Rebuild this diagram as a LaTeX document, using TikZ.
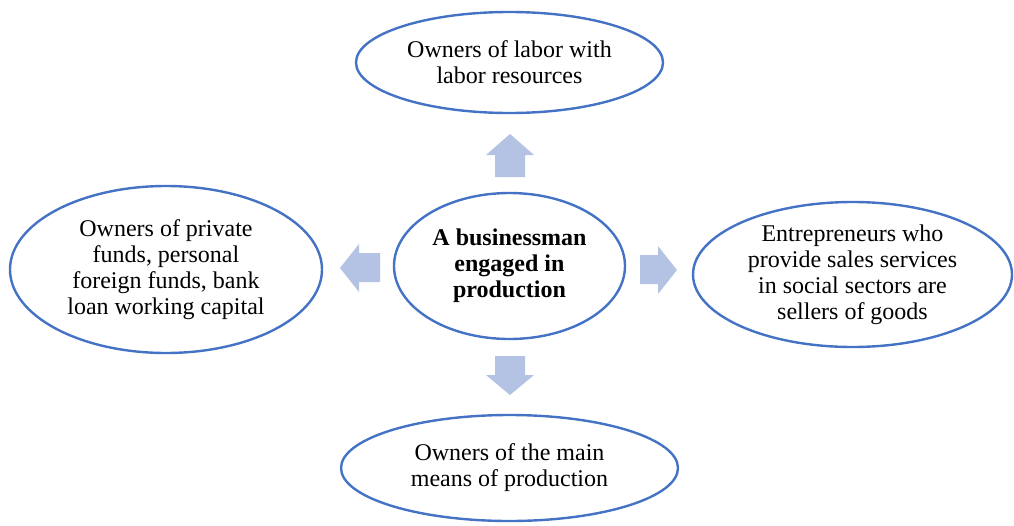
\documentclass[tikz,border=0pt]{standalone}
\usepackage{fontspec}
\setmainfont{Liberation Serif}
\usetikzlibrary{shapes.geometric}
\definecolor{edgeblue}{RGB}{68,114,196}
\definecolor{arrowfill}{RGB}{180,194,227}
\begin{document}
\begin{tikzpicture}[x=0.75pt,y=-0.75pt,
  oval/.style={ellipse,draw=edgeblue,line width=1.8pt,inner sep=0pt,align=center,
    font=\fontsize{18}{19.5}\selectfont},
  blockarrow/.style={fill=arrowfill,draw=none}]
\useasboundingbox (0,0) rectangle (1014,525);
% ellipses
\node[oval,minimum width=230.25pt,minimum height=75.75pt] (top) at (509.5,62.5)
  {Owners of labor with\\labor resources};
\node[oval,minimum width=234pt,minimum height=125.25pt] (left) at (166,269.5)
  {Owners of private\\funds, personal\\foreign funds, bank\\loan working capital};
\node[oval,minimum width=173.25pt,minimum height=109.5pt,font=\fontsize{18}{19.5}\selectfont\bfseries] (center) at (509.5,266)
  {A businessman\\engaged in\\production};
\node[oval,minimum width=239.25pt,minimum height=108.75pt] (right) at (852.5,274.5)
  {Entrepreneurs who\\provide sales services\\in social sectors are\\sellers of goods};
\node[oval,minimum width=252.75pt,minimum height=79.5pt] (bottom) at (509.5,468)
  {Owners of the main\\means of production};
% block arrows
\fill[blockarrow] (510,134) -- (534,155) -- (525,155) -- (525,177) -- (495,177) -- (495,155) -- (486,155) -- cycle;
\fill[blockarrow] (340,268) -- (359,244) -- (359,253) -- (380,253) -- (380,282) -- (359,282) -- (359,292) -- cycle;
\fill[blockarrow] (677,270) -- (658,246) -- (658,255) -- (640,255) -- (640,284) -- (658,284) -- (658,294) -- cycle;
\fill[blockarrow] (510,395) -- (534,375) -- (525,375) -- (525,356) -- (495,356) -- (495,375) -- (486,375) -- cycle;
\end{tikzpicture}
\end{document}
